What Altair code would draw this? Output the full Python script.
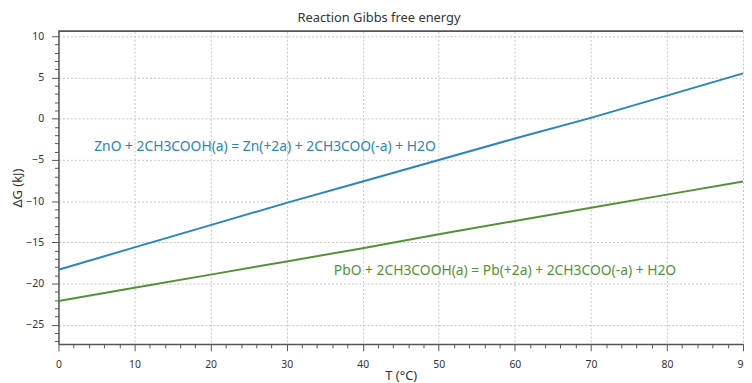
import altair as alt
import pandas as pd

temps = [0, 10, 20, 30, 40, 50, 60, 70, 80, 90]
zno_dg = [-18.3, -15.6, -12.9, -10.2, -7.6, -5.0, -2.4, 0.1, 2.8, 5.5]
pbo_dg = [-22.1, -20.5, -18.9, -17.3, -15.7, -14.0, -12.4, -10.8, -9.2, -7.6]
series_names = ["ZnO", "PbO"]
series_labels = [
    "ZnO + 2CH3COOH(a) = Zn(+2a) + 2CH3COO(-a) + H2O",
    "PbO + 2CH3COOH(a) = Pb(+2a) + 2CH3COO(-a) + H2O",
]
label_x = [4.7, 36.2]
label_y = [-3.4, -18.5]
colors = ["#2a86ba", "#54923a"]

FONT = "Noto Sans"
W, H = 692, 316

df = pd.DataFrame({
    "T": temps * 2,
    "dG": zno_dg + pbo_dg,
    "s": [series_names[0]] * len(temps) + [series_names[1]] * len(temps),
})
lab = pd.DataFrame({"x": label_x, "y": label_y, "t": series_labels, "s": series_names})

xs = alt.Scale(domain=[0, 90], nice=False, zero=False)
ys = alt.Scale(domain=[-27.3, 10.6], nice=False, zero=False)
cs = alt.Scale(domain=series_names, range=colors)

xaxis = alt.Axis(
    values=list(range(0, 91, 2)), tickCount=200, format="d",
    labelExpr="datum.value % 10 === 0 ? datum.label : ''",
    tickSize={"condition": {"test": "datum.value % 10 === 0", "value": 7}, "value": 4},
    gridOpacity={"condition": {"test": "datum.value % 10 === 0", "value": 1}, "value": 0},
    grid=True, gridDash=[2, 2], gridColor="#c4c4c4", gridWidth=1,
    domainColor="#555555", domainWidth=1.5, tickColor="#555555", tickWidth=1,
    labelFont=FONT, labelFontSize=10.5, labelColor="#333333", labelPadding=9,
    labelOverlap=False, labelFlush=False,
    title="T (°C)", titleFont=FONT, titleFontSize=13, titleFontWeight="normal",
    titleColor="#333333", titleY=26, titleBaseline="top",
)
yaxis = alt.Axis(
    values=list(range(-27, 11, 1)), tickCount=200, format="d",
    labelExpr="datum.value % 5 === 0 ? datum.label : ''",
    tickSize={"condition": {"test": "datum.value % 5 === 0", "value": 7}, "value": 4},
    gridOpacity={"condition": {"test": "datum.value % 5 === 0", "value": 1}, "value": 0},
    grid=True, gridDash=[2, 2], gridColor="#c4c4c4", gridWidth=1,
    domainColor="#555555", domainWidth=1.5, tickColor="#555555", tickWidth=1,
    labelFont=FONT, labelFontSize=10.5, labelColor="#333333", labelPadding=8,
    labelOverlap=False, labelFlush=False,
    title="ΔG (kJ)", titleFont=FONT, titleFontSize=13, titleFontWeight="normal",
    titleColor="#333333", titlePadding=1,
)

lines = alt.Chart(df).mark_line(strokeWidth=2, clip=True).encode(
    x=alt.X("T:Q", scale=xs, axis=xaxis),
    y=alt.Y("dG:Q", scale=ys, axis=yaxis),
    color=alt.Color("s:N", scale=cs, legend=None),
)

texts = alt.Chart(lab).mark_text(align="left", baseline="middle", font=FONT, fontSize=14).encode(
    x=alt.X("x:Q", scale=xs),
    y=alt.Y("y:Q", scale=ys),
    text="t:N",
    color=alt.Color("s:N", scale=cs, legend=None),
)

top = alt.Chart(lab).mark_rule(color="#555555", strokeWidth=1.5).encode(
    x=alt.value(0), x2=alt.value(W), y=alt.value(0)
)

chart = alt.layer(lines, texts, top).properties(
    width=W, height=H,
    title=alt.TitleParams("Reaction Gibbs free energy", font=FONT, fontSize=13,
                          fontWeight="normal", color="#333333", anchor="middle",
                          dx=-22, offset=6),
    autosize="none",
    padding={"left": 51, "top": 21.5, "right": 1, "bottom": 42},
).configure_view(stroke=None)

chart.save("out.html", embed_options={"renderer": "svg", "actions": False})
